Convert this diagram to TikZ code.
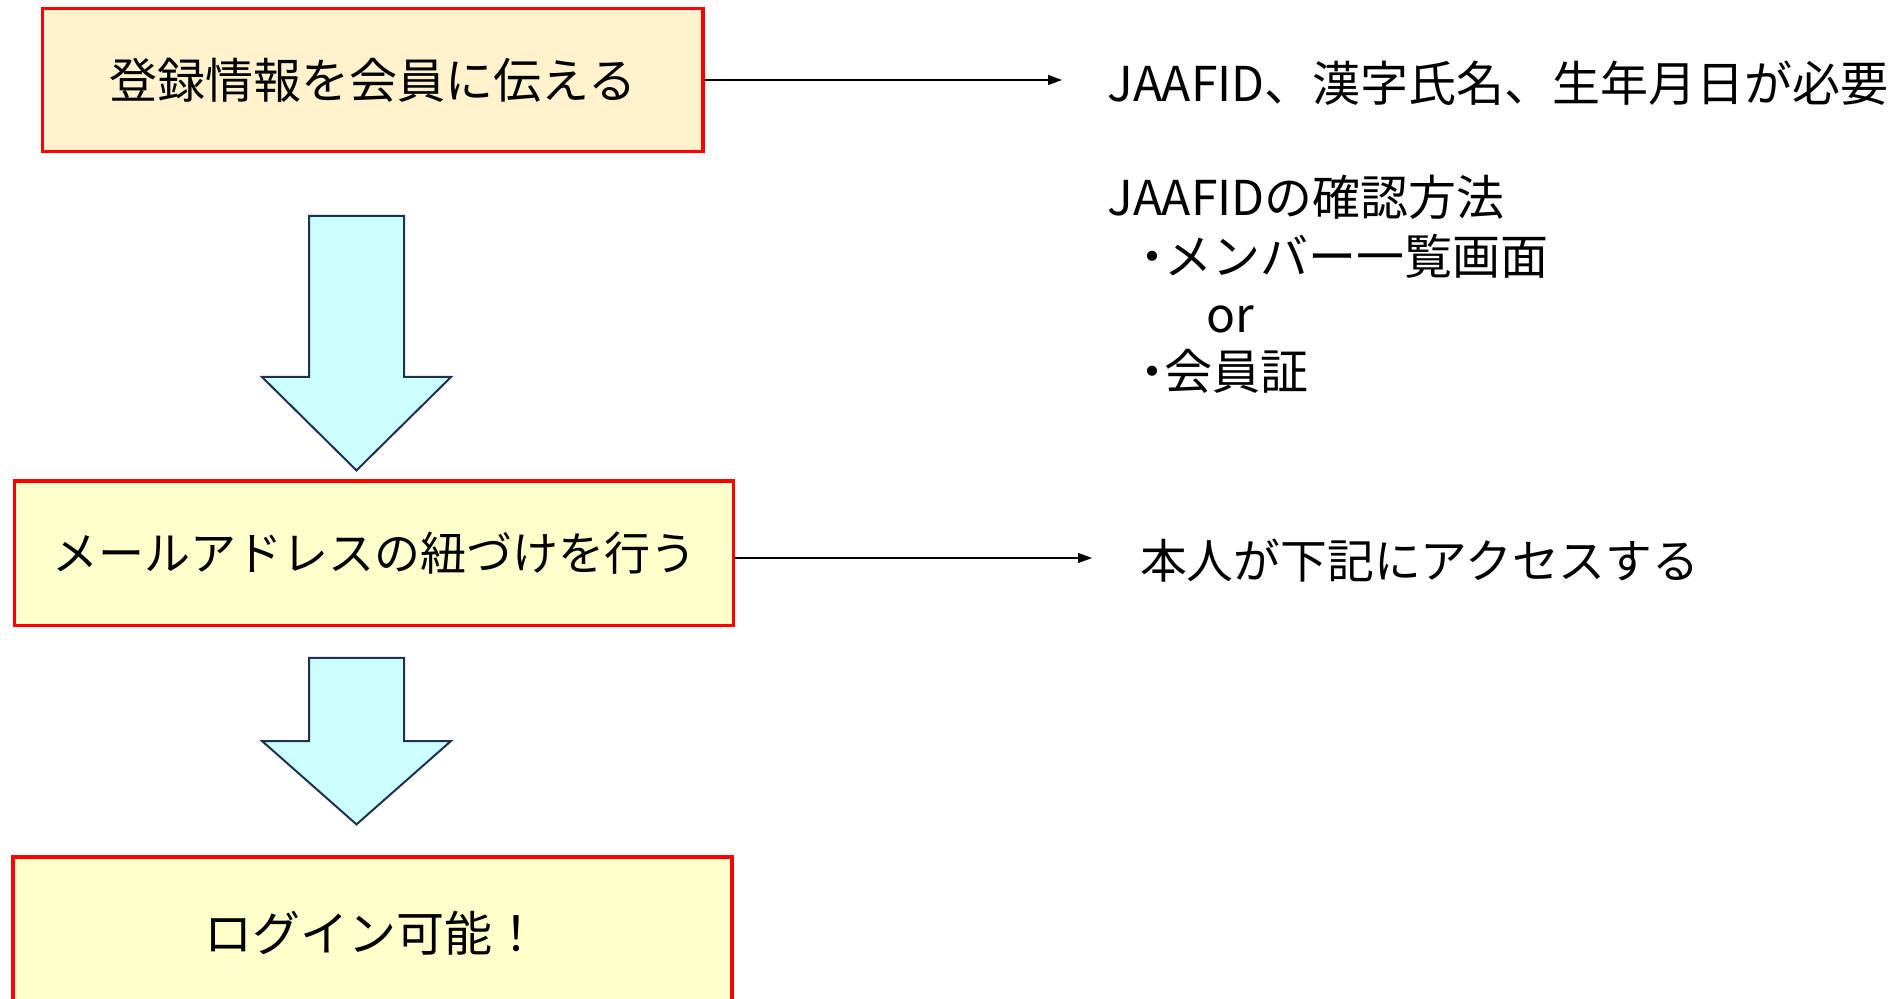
\documentclass[tikz,border=0pt]{standalone}
\usepackage{fontspec}
\setmainfont{Noto Sans CJK JP}
\usetikzlibrary{arrows.meta}
\definecolor{boxred}{HTML}{FF0000}
\definecolor{fillA}{HTML}{FFF2CC}
\definecolor{fillB}{HTML}{FFFFCC}
\definecolor{arrfill}{HTML}{CCFFFF}
\definecolor{arrline}{HTML}{1F3050}
\newcommand{\pdot}{{\addfontfeature{RawFeature=+palt}・}}
\tikzset{
  stepbox/.style={draw=boxred, line width=1.8pt, rectangle, inner sep=0pt, font=\fontsize{24}{29}\selectfont},
  note/.style={anchor=west, inner sep=0pt, text height=0.88em, text depth=0.12em, font=\fontsize{24}{29}\selectfont},
  link/.style={line width=0.6pt, -{Triangle[length=7pt,width=5pt]}},
  blockarrow/.style={draw=arrline, fill=arrfill, line width=1pt, line join=miter}
}
\begin{document}
\begin{tikzpicture}[x=0.5pt,y=-0.5pt]
\clip (0,0) rectangle (1901,999);
\fill[white] (0,0) rectangle (1901,999);
% boxes
\node[stepbox, fill=fillA, minimum width=330.4pt, minimum height=71.5pt] (b1) at (372.8,80) {登録情報を会員に伝える};
\node[stepbox, fill=fillB, minimum width=359.5pt, minimum height=72.3pt, font=\fontsize{23}{28}\selectfont] (b2) at (374,553.3) {メールアドレスの紐づけを行う};
\node[stepbox, fill=fillB, minimum width=359.5pt, minimum height=76.5pt] (b3) at (372.5,933.5) {ログイン可能！};
% right notes
\node[note] (n1) at (1107,94) {JAAFID、漢字氏名、生年月日が必要};
\node[note] (n2) at (1107,207.6) {JAAFIDの確認方法};
\node[note] (n3) at (1140,267) {\pdot メンバー一覧画面};
\node[note] (n4) at (1206,325) {or};
\node[note] (n5) at (1140,382) {\pdot 会員証};
\node[note, font=\fontsize{23.4}{28}\selectfont] (n6) at (1139.7,571) {本人が下記にアクセスする};
% connectors
\coordinate (e1) at (1062,80);
\coordinate (e2) at (1092,558);
\draw[link] (b1.east |- e1) -- (e1);
\draw[link] (b2.east |- e2) -- (e2);
% block arrows
\draw[blockarrow] (309,215.8) -- (404,215.8) -- (404,377) -- (451,377) -- (356.5,470.4) -- (262,377) -- (309,377) -- cycle;
\draw[blockarrow] (309,658) -- (404,658) -- (404,741) -- (451,741) -- (356.5,824.4) -- (262,741) -- (309,741) -- cycle;
\end{tikzpicture}
\end{document}
